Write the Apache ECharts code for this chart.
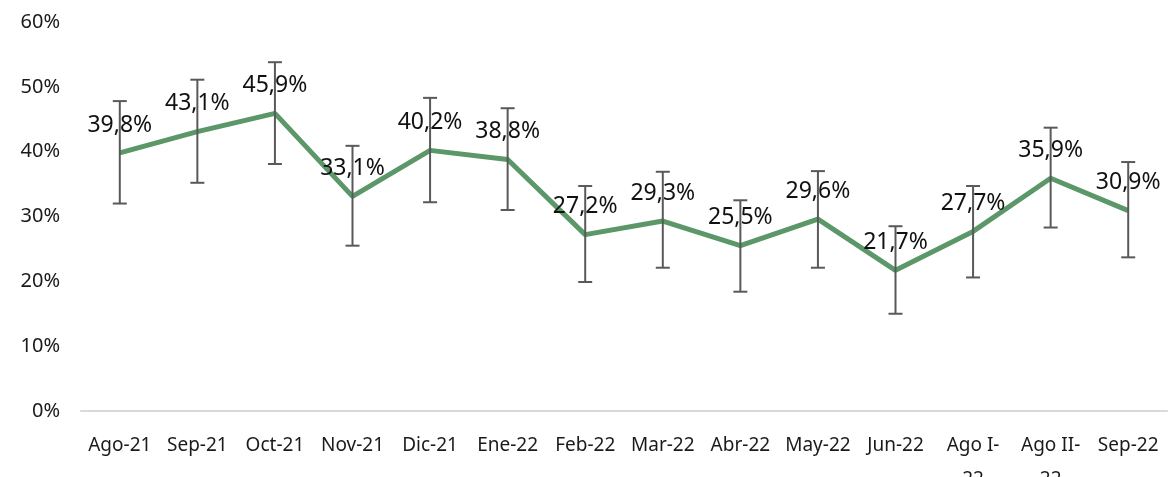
<!DOCTYPE html>
<html>
<head>
<meta charset="utf-8">
<script src="https://cdn.jsdelivr.net/npm/echarts@6/dist/echarts.min.js"></script>
<style>
html,body{margin:0;padding:0;background:#fff;}
#main{width:1168px;height:477px;}
</style>
</head>
<body>
<div id="main"></div>
<script>
// categories and values
var months = ['Ago-21','Sep-21','Oct-21','Nov-21','Dic-21','Ene-22','Feb-22','Mar-22','Abr-22','May-22','Jun-22','Ago I-\n22','Ago II-\n22','Sep-22'];
var values = [39.8, 43.1, 45.9, 33.1, 40.2, 38.8, 27.2, 29.3, 25.5, 29.6, 21.7, 27.7, 35.9, 30.9];
var errLow  = [32.0, 35.2, 38.1, 25.5, 32.2, 31.0, 19.9, 22.1, 18.4, 22.1, 15.0, 20.6, 28.3, 23.7];
var errHigh = [47.8, 51.1, 53.8, 40.9, 48.3, 46.7, 34.7, 36.9, 32.5, 37.0, 28.5, 34.7, 43.7, 38.4];

var fontName = '"Noto Sans", sans-serif';
var chart = echarts.init(document.getElementById('main'));

var errData = [];
for (var i = 0; i < months.length; i++) {
    errData.push([i, errLow[i], errHigh[i]]);
}

var option = {
    animation: false,
    grid: { left: 81, right: 1, top: 22, bottom: 66, outerBoundsMode: 'none', containLabel: false },
    xAxis: {
        type: 'category',
        data: months,
        axisLine: { lineStyle: { color: '#d9d9d9', width: 2 } },
        axisTick: { show: false },
        axisLabel: { color: '#1a1a1a', fontSize: 19, fontFamily: fontName, margin: 18, lineHeight: 34, interval: 0 }
    },
    yAxis: {
        type: 'value',
        min: 0, max: 60, interval: 10,
        splitLine: { show: false },
        axisLine: { show: false },
        axisTick: { show: false },
        axisLabel: { color: '#1a1a1a', fontSize: 20, fontFamily: fontName, margin: 21, formatter: '{value}%' }
    },
    series: [
        {
            type: 'custom',
            z: 3,
            data: errData,
            renderItem: function (params, api) {
                var x = api.value(0);
                var lo = api.coord([x, api.value(1)]);
                var hi = api.coord([x, api.value(2)]);
                var w = 7;
                var st = { stroke: '#595959', lineWidth: 2 };
                return {
                    type: 'group',
                    children: [
                        { type: 'line', shape: { x1: lo[0], y1: lo[1], x2: hi[0], y2: hi[1] }, style: st },
                        { type: 'line', shape: { x1: hi[0] - w, y1: hi[1], x2: hi[0] + w, y2: hi[1] }, style: st },
                        { type: 'line', shape: { x1: lo[0] - w, y1: lo[1], x2: lo[0] + w, y2: lo[1] }, style: st }
                    ]
                };
            }
        },
        {
            type: 'line',
            z: 2,
            data: values,
            symbol: 'circle',
            symbolSize: 1,
            showSymbol: true,
            itemStyle: { color: '#5b9768' },
            lineStyle: { color: '#5b9768', width: 5 },
            label: {
                show: true,
                position: 'top',
                distance: 16,
                color: '#111',
                fontSize: 23,
                fontFamily: fontName,
                formatter: function (p) { return p.value.toFixed(1).replace('.', ',') + '%'; }
            }
        }
    ]
};
chart.setOption(option);
</script>
</body>
</html>
